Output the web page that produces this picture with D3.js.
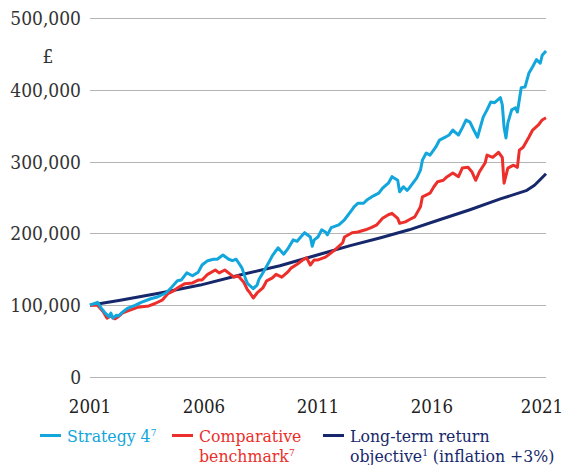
<!DOCTYPE html>
<html>
<head>
  <meta charset="UTF-8">
  <title>Strategy 4 growth of £100,000</title>
  <script src="https://cdn.jsdelivr.net/npm/d3@7"></script>
  <style>
    body { margin: 0; background: #fff; }
    svg text {
      font-family: "DejaVu Serif Condensed", "DejaVu Serif", serif;
      font-stretch: condensed;
    }
  </style>
</head>
<body>
<div id="chart"></div>
<script>
// values in £ thousands
var strategy = [
  ["2001-01",100],["2001-05",104],["2001-07",96],["2001-09",89],["2001-11",84],["2001-12",89],
  ["2002-01",82],["2002-03",86],["2002-04",85],["2002-06",90],["2002-09",96],["2003-01",100],
  ["2003-04",104],["2003-09",109],["2003-12",111],["2004-05",117],["2004-08",125],["2004-11",134],
  ["2005-01",135],["2005-04",145],["2005-07",141],["2005-10",146],["2005-12",156],["2006-03",162],
  ["2006-06",164],["2006-08",164],["2006-11",170],["2007-02",164],["2007-04",162],["2007-06",164],
  ["2007-09",152],["2007-11",136],["2007-12",130],["2008-03",123],["2008-05",128],["2008-06",136],
  ["2008-08",145],["2008-11",159],["2009-01",169],["2009-04",180],["2009-07",171],["2009-09",178],
  ["2009-12",191],["2010-02",189],["2010-05",198],["2010-06",201],["2010-09",195],["2010-10",182],
  ["2010-11",191],["2011-01",195],["2011-03",205],["2011-05",202],["2011-06",198],["2011-08",208],
  ["2011-12",212],["2012-03",219],["2012-07",233],["2012-08",237],["2012-10",242],["2013-01",242],
  ["2013-03",247],["2013-06",252],["2013-09",256],["2013-11",263],["2014-02",270],["2014-04",279],
  ["2014-07",274],["2014-08",258],["2014-10",265],["2014-12",260],["2015-01",263],["2015-03",270],
  ["2015-05",277],["2015-07",288],["2015-08",302],["2015-10",312],["2015-12",309],["2016-03",320],
  ["2016-05",330],["2016-08",334],["2016-10",337],["2016-12",344],["2017-03",337],["2017-05",347],
  ["2017-07",358],["2017-09",355],["2017-11",344],["2018-01",334],["2018-02",344],["2018-04",362],
  ["2018-06",372],["2018-08",383],["2018-10",382],["2019-01",389],["2019-02",379],["2019-03",348],
  ["2019-04",333],["2019-05",354],["2019-07",372],["2019-09",375],["2019-10",369],["2019-12",403],
  ["2020-02",404],["2020-04",423],["2020-06",432],["2020-08",442],["2020-10",437],["2020-11",448],
  ["2021-01",454]
];

var benchmark = [
  ["2001-01",100],["2001-05",100],["2001-08",91],["2001-10",82],["2001-12",85],["2002-02",81],
  ["2002-04",84],["2002-06",89],["2002-09",92],["2003-02",97],["2003-08",99],["2003-11",102],
  ["2004-03",107],["2004-06",116],["2004-09",120],["2004-11",124],["2005-03",130],["2005-07",131],
  ["2005-10",135],["2005-12",135],["2006-03",143],["2006-07",149],["2006-09",145],["2006-12",149],
  ["2007-03",143],["2007-05",139],["2007-07",141],["2007-10",132],["2007-12",121],["2008-01",118],
  ["2008-03",110],["2008-05",117],["2008-08",124],["2008-10",134],["2009-01",138],["2009-03",143],
  ["2009-06",139],["2009-09",146],["2009-11",152],["2010-02",157],["2010-05",163],["2010-07",166],
  ["2010-09",156],["2010-11",163],["2011-01",163],["2011-05",167],["2011-10",177],["2012-02",187],
  ["2012-03",195],["2012-07",201],["2012-10",202],["2013-02",205],["2013-05",208],["2013-08",212],
  ["2013-11",221],["2014-02",226],["2014-04",228],["2014-07",221],["2014-08",214],["2014-11",216],
  ["2015-01",219],["2015-04",223],["2015-07",237],["2015-08",251],["2015-12",256],["2016-02",265],
  ["2016-04",272],["2016-07",274],["2016-09",279],["2016-12",284],["2017-03",279],["2017-05",291],
  ["2017-08",292],["2017-10",286],["2017-12",274],["2018-02",286],["2018-05",298],["2018-06",309],
  ["2018-09",306],["2018-12",313],["2019-02",306],["2019-03",270],["2019-05",291],["2019-08",295],
  ["2019-10",292],["2019-11",316],["2020-01",320],["2020-04",334],["2020-06",344],["2020-09",351],
  ["2020-11",358],["2021-01",361]
];

var objective = [
  ["2001-01",100],["2002-05",107],["2004-02",117],["2005-11",128],["2007-08",142],["2009-05",155],
  ["2011-02",171],["2012-06",183],["2013-10",194],["2015-01",205],["2016-05",219],["2017-09",233],
  ["2019-01",248],["2020-03",260],["2020-07",267],["2021-01",283]
];

var yTicks = [0, 100000, 200000, 300000, 400000, 500000];
var xTicks = ["2001", "2006", "2011", "2016", "2021"];

var colors = { strategy: "#12a6dc", benchmark: "#ec2f2a", objective: "#16286b" };

var W = 566, H = 465;
var svg = d3.select("#chart").append("svg").attr("width", W).attr("height", H);

var parseMonth = d3.timeParse("%Y-%m");
var parseYear = d3.timeParse("%Y");

var x = d3.scaleTime()
  .domain([parseYear("2001"), parseYear("2021")])
  .range([90, 546]);
var y = d3.scaleLinear().domain([0, 500000]).range([377, 18]);

// gridlines + y labels
var grid = svg.append("g");
grid.selectAll("line").data(yTicks).enter().append("line")
  .attr("x1", 90).attr("x2", 546)
  .attr("y1", d => Math.round(y(d)) + 0.5).attr("y2", d => Math.round(y(d)) + 0.5)
  .attr("stroke", "#b5b5b5").attr("stroke-width", 1.2);

grid.selectAll("text").data(yTicks).enter().append("text")
  .attr("x", 81).attr("y", d => y(d) + 7)
  .attr("text-anchor", "end")
  .attr("font-size", 19).attr("fill", "#333")
  .text(d3.format(","));

svg.append("text").attr("x", 48).attr("y", 63)
  .attr("text-anchor", "middle").attr("font-size", 19).attr("fill", "#333")
  .text("£");

// year labels, last one kept inside the frame
svg.append("g").selectAll("text").data(xTicks).enter().append("text")
  .attr("x", d => Math.min(x(parseYear(d)), W - 24)).attr("y", 413)
  .attr("text-anchor", "middle").attr("font-size", 18.5).attr("fill", "#222")
  .text(d => d);

var line = d3.line()
  .x(d => x(parseMonth(d[0])))
  .y(d => y(d[1] * 1000));

[["objective", objective], ["benchmark", benchmark], ["strategy", strategy]].forEach(function(s) {
  svg.append("path").datum(s[1])
    .attr("d", line)
    .attr("fill", "none")
    .attr("stroke", colors[s[0]])
    .attr("stroke-width", 3)
    .attr("stroke-linejoin", "round");
});

// legend
var legend = [
  { key: "strategy", x: 40, lines: [["Strategy 4", "7"]] },
  { key: "benchmark", x: 172, lines: [["Comparative", ""], ["benchmark", "7"]] },
  { key: "objective", x: 323, lines: [["Long-term return", ""], ["objective", "1", " (inflation +3%)"]] }
];

legend.forEach(function(l) {
  var g = svg.append("g");
  g.append("line")
    .attr("x1", l.x).attr("x2", l.x + 21)
    .attr("y1", 435.5).attr("y2", 435.5)
    .attr("stroke", colors[l.key]).attr("stroke-width", 3);
  l.lines.forEach(function(parts, i) {
    var t = g.append("text")
      .attr("x", l.x + 27).attr("y", 442 + i * 20)
      .attr("font-size", 17.5).attr("fill", colors[l.key]);
    t.append("tspan").text(parts[0]);
    if (parts[1]) t.append("tspan").attr("font-size", 10).attr("dy", -6).text(parts[1]);
    if (parts[2]) t.append("tspan").attr("dy", 6).text(parts[2]);
  });
});
</script>
</body>
</html>
